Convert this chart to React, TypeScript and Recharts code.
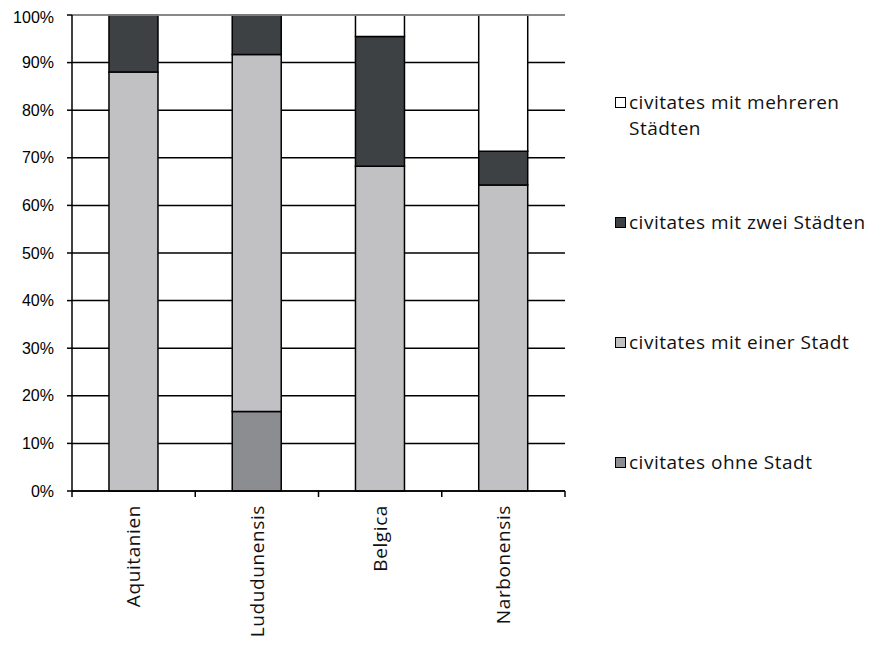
import React from "react";
import {
  BarChart,
  Bar,
  XAxis,
  YAxis,
  CartesianGrid,
  Legend,
  ReferenceLine,
} from "recharts";

// categories and shares (percent of civitates per province)
const provinces = ["Aquitanien", "Lududunensis", "Belgica", "Narbonensis"];
const ohneStadt = [0, 16.7, 0, 0];
const eineStadt = [88, 75, 68.2, 64.3];
const zweiStaedte = [12, 8.3, 27.3, 7.1];
const mehrereStaedte = [0, 0, 4.5, 28.6];
const yTicks = [0, 10, 20, 30, 40, 50, 60, 70, 80, 90, 100];

const chartData = provinces.map((name, i) => ({
  name,
  ohne: ohneStadt[i],
  eine: eineStadt[i],
  zwei: zweiStaedte[i],
  mehrere: mehrereStaedte[i],
}));

const series = [
  { key: "ohne", label: "civitates ohne Stadt", fill: "#8c8d91" },
  { key: "eine", label: "civitates mit einer Stadt", fill: "#c1c1c3" },
  { key: "zwei", label: "civitates mit zwei Städten", fill: "#3e4144" },
  { key: "mehrere", label: "civitates mit mehreren Städten", fill: "#ffffff" },
];

const labelFont = "'Open Sans', 'DejaVu Sans', sans-serif";

const ProvinceTick = (props: any) => {
  const { x, y, payload, index, visibleTicksCount } = props;
  const half = payload.offset || 0;
  const isLast = index === visibleTicksCount - 1;
  return (
    <g>
      <line x1={x - half} x2={x - half} y1={y - 8} y2={y - 2} stroke="#000" strokeWidth={1.5} />
      {isLast && (
        <line x1={x + half} x2={x + half} y1={y - 8} y2={y - 2} stroke="#000" strokeWidth={1.5} />
      )}
      <text
        x={x}
        y={y + 6}
        dy="0.35em"
        transform={`rotate(-90, ${x}, ${y + 6})`}
        textAnchor="end"
        fontFamily={labelFont}
        fontSize={19}
        letterSpacing={0.6}
        fill="#111"
      >
        {payload.value}
      </text>
    </g>
  );
};

const SideLegend = () => (
  <div style={{ fontFamily: labelFont, fontSize: 19, letterSpacing: 0.5, color: "#111" }}>
    {[...series].reverse().map((s) => (
      <div key={s.key} style={{ display: "flex", alignItems: "flex-start", height: 120 }}>
        <span
          style={{
            display: "inline-block",
            width: 9,
            height: 9,
            marginTop: 8,
            marginRight: 3,
            border: "1.5px solid #000",
            background: s.fill,
            flexShrink: 0,
          }}
        />
        <span style={{ lineHeight: "26px", width: 244 }}>{s.label}</span>
      </div>
    ))}
  </div>
);

export default function App() {
  return (
    <BarChart
      width={867}
      height={638}
      data={chartData}
      margin={{ top: 7, right: 310, bottom: 5, left: 0 }}
      barCategoryGap="30%"
    >
      <CartesianGrid vertical={false} stroke="#000" strokeWidth={1.5} />
      <XAxis
        dataKey="name"
        height={150}
        axisLine={{ stroke: "#000", strokeWidth: 1.5 }}
        tickLine={false}
        tick={<ProvinceTick />}
        interval={0}
      />
      <YAxis
        width={64}
        domain={[0, 100]}
        ticks={yTicks}
        tickFormatter={(v: number) => `${v}%`}
        axisLine={{ stroke: "#000", strokeWidth: 1.5 }}
        tickLine={{ stroke: "#000", strokeWidth: 1.5 }}
        tickSize={5}
        tickMargin={13}
        tick={{ fill: "#000", fontSize: 16, fontFamily: "'Liberation Sans', Arial, sans-serif" }}
      />
      <YAxis
        yAxisId="frame"
        orientation="right"
        width={0}
        domain={[0, 100]}
        tick={false}
        tickLine={false}
        axisLine={{ stroke: "#a0a0a0", strokeWidth: 1.5 }}
      />
      <ReferenceLine y={100} stroke="#a0a0a0" strokeWidth={1.5} />
      {series.map((s) => (
        <Bar
          key={s.key}
          dataKey={s.key}
          name={s.label}
          stackId="a"
          fill={s.fill}
          stroke="#000"
          strokeWidth={1.5}
          isAnimationActive={false}
        />
      ))}
      <Legend
        layout="vertical"
        align="center"
        verticalAlign="middle"
        content={<SideLegend />}
        wrapperStyle={{ left: 607, top: 81, width: 260 }}
      />
    </BarChart>
  );
}
